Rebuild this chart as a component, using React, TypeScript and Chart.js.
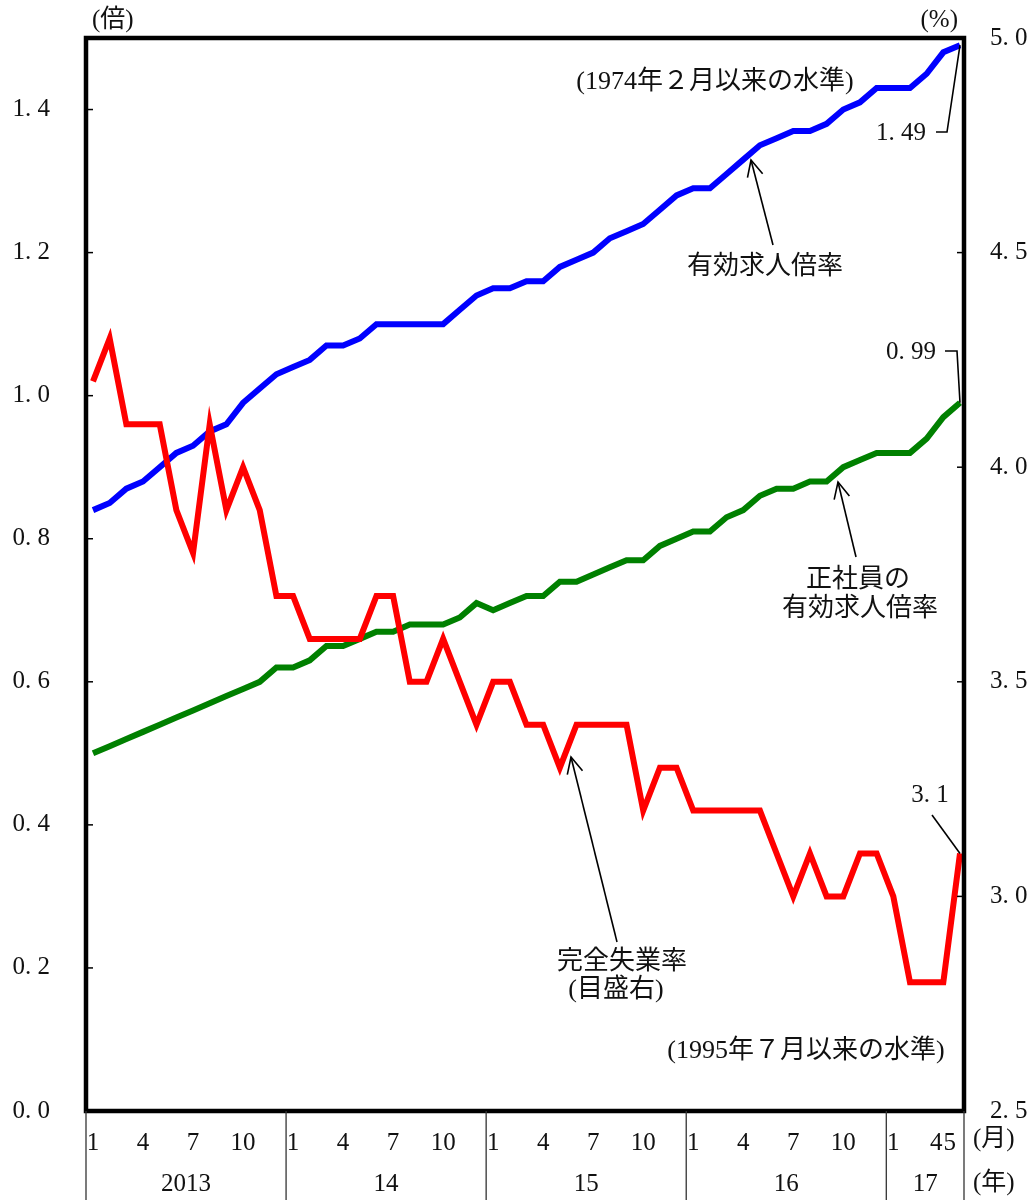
import React, { useEffect, useRef } from "react";
import { Chart, registerables } from "chart.js";

Chart.register(...registerables);

// ---- data ----
const categories = [
  "2013/1", "2013/2", "2013/3", "2013/4", "2013/5", "2013/6", "2013/7", "2013/8", "2013/9", "2013/10", "2013/11", "2013/12",
  "2014/1", "2014/2", "2014/3", "2014/4", "2014/5", "2014/6", "2014/7", "2014/8", "2014/9", "2014/10", "2014/11", "2014/12",
  "2015/1", "2015/2", "2015/3", "2015/4", "2015/5", "2015/6", "2015/7", "2015/8", "2015/9", "2015/10", "2015/11", "2015/12",
  "2016/1", "2016/2", "2016/3", "2016/4", "2016/5", "2016/6", "2016/7", "2016/8", "2016/9", "2016/10", "2016/11", "2016/12",
  "2017/1", "2017/2", "2017/3", "2017/4", "2017/5",
];

const jobOpeningsRatio = [
  0.84, 0.85, 0.87, 0.88, 0.90, 0.92, 0.93, 0.95, 0.96, 0.99, 1.01, 1.03,
  1.04, 1.05, 1.07, 1.07, 1.08, 1.10, 1.10, 1.10, 1.10, 1.10, 1.12, 1.14,
  1.15, 1.15, 1.16, 1.16, 1.18, 1.19, 1.20, 1.22, 1.23, 1.24, 1.26, 1.28,
  1.29, 1.29, 1.31, 1.33, 1.35, 1.36, 1.37, 1.37, 1.38, 1.40, 1.41, 1.43,
  1.43, 1.43, 1.45, 1.48, 1.49,
];

const regularJobOpeningsRatio = [
  0.50, 0.51, 0.52, 0.53, 0.54, 0.55, 0.56, 0.57, 0.58, 0.59, 0.60, 0.62,
  0.62, 0.63, 0.65, 0.65, 0.66, 0.67, 0.67, 0.68, 0.68, 0.68, 0.69, 0.71,
  0.70, 0.71, 0.72, 0.72, 0.74, 0.74, 0.75, 0.76, 0.77, 0.77, 0.79, 0.80,
  0.81, 0.81, 0.83, 0.84, 0.86, 0.87, 0.87, 0.88, 0.88, 0.90, 0.91, 0.92,
  0.92, 0.92, 0.94, 0.97, 0.99,
];

const unemploymentRate = [
  4.2, 4.3, 4.1, 4.1, 4.1, 3.9, 3.8, 4.1, 3.9, 4.0, 3.9, 3.7,
  3.7, 3.6, 3.6, 3.6, 3.6, 3.7, 3.7, 3.5, 3.5, 3.6, 3.5, 3.4,
  3.5, 3.5, 3.4, 3.4, 3.3, 3.4, 3.4, 3.4, 3.4, 3.2, 3.3, 3.3,
  3.2, 3.2, 3.2, 3.2, 3.2, 3.1, 3.0, 3.1, 3.0, 3.0, 3.1, 3.1,
  3.0, 2.8, 2.8, 2.8, 3.1,
];

const leftTicks = [0, 0.2, 0.4, 0.6, 0.8, 1.0, 1.2, 1.4];
const rightTicks = [2.5, 3.0, 3.5, 4.0, 4.5, 5.0];
const monthTickIndex = [0, 3, 6, 9, 12, 15, 18, 21, 24, 27, 30, 33, 36, 39, 42, 45, 48, 51, 52];
const yearNames = ["2013", "14", "15", "16", "17"];
const yearStartIndex = [0, 12, 24, 36, 48];

// ---- styling ----
const FONT = "'Liberation Serif', 'Noto Sans CJK JP', serif";
const X_MIN = -0.42;
const X_MAX = 52.24;

const fmtTick = (v: number) => v.toFixed(1).replace(".", ". ");

function drawArrow(ctx: CanvasRenderingContext2D, x1: number, y1: number, x2: number, y2: number) {
  ctx.beginPath();
  ctx.moveTo(x1, y1);
  ctx.lineTo(x2, y2);
  ctx.stroke();
  const ang = Math.atan2(y2 - y1, x2 - x1);
  const L = 18;
  const a = 0.45;
  ctx.beginPath();
  ctx.moveTo(x2 - L * Math.cos(ang - a), y2 - L * Math.sin(ang - a));
  ctx.lineTo(x2, y2);
  ctx.lineTo(x2 - L * Math.cos(ang + a), y2 - L * Math.sin(ang + a));
  ctx.stroke();
}

const overlayPlugin = {
  id: "overlay",
  afterDraw(chart: any) {
    const { ctx, chartArea: ca, scales } = chart;
    const sx = scales.x;
    const yl = scales.y;
    const yr = scales.y1;
    const H = chart.height;
    ctx.save();

    // frame
    ctx.strokeStyle = "#000";
    ctx.lineWidth = 4.5;
    ctx.strokeRect(ca.left, ca.top, ca.right - ca.left, ca.bottom - ca.top);

    // inner ticks
    ctx.lineWidth = 1.5;
    leftTicks.forEach((v) => {
      const py = yl.getPixelForValue(v);
      ctx.beginPath();
      ctx.moveTo(ca.left, py);
      ctx.lineTo(ca.left + 7, py);
      ctx.stroke();
    });
    rightTicks.forEach((v) => {
      const py = yr.getPixelForValue(v);
      ctx.beginPath();
      ctx.moveTo(ca.right - 7, py);
      ctx.lineTo(ca.right, py);
      ctx.stroke();
    });

    // year separators below the axis
    ctx.strokeStyle = "#333";
    ctx.lineWidth = 1.3;
    const seps = yearStartIndex.map((i) => sx.getPixelForValue(i + X_MIN));
    seps.push(ca.right);
    seps.forEach((px) => {
      ctx.beginPath();
      ctx.moveTo(px, ca.bottom);
      ctx.lineTo(px, H);
      ctx.stroke();
    });

    ctx.fillStyle = "#111";
    ctx.textBaseline = "middle";
    ctx.font = `25px ${FONT}`;
    ctx.textAlign = "center";
    // month labels, kept clear of the right end separator
    let maxRight = ca.right - 8;
    for (let k = monthTickIndex.length - 1; k >= 0; k--) {
      const i = monthTickIndex[k];
      const label = categories[i].split("/")[1];
      const w = ctx.measureText(label).width;
      const px = Math.min(sx.getPixelForValue(i), maxRight - w / 2);
      ctx.fillText(label, px, 1143);
      maxRight = px - w / 2 - 1;
    }
    yearNames.forEach((name, k) => {
      const cx = (seps[k] + seps[k + 1]) / 2;
      ctx.fillText(name, cx, 1184);
    });
    ctx.textAlign = "left";
    ctx.fillText("(月)", ca.right + 9, 1139);
    ctx.fillText("(年)", ca.right + 9, 1183);

    // unit labels
    ctx.fillText("(倍)", 92, 20);
    ctx.textAlign = "right";
    ctx.fillText("(%)", 958, 20);

    // annotations
    ctx.font = `26px ${FONT}`;
    ctx.textAlign = "center";
    ctx.fillText("(1974年２月以来の水準)", 715, 82);
    ctx.fillText("有効求人倍率", 765, 267);
    ctx.fillText("正社員の", 858, 580);
    ctx.fillText("有効求人倍率", 860, 609);
    ctx.fillText("完全失業率", 622, 962);
    ctx.fillText("(目盛右)", 616, 990);
    ctx.fillText("(1995年７月以来の水準)", 806, 1051);
    ctx.font = `25px ${FONT}`;
    ctx.textAlign = "right";
    ctx.fillText("1. 49", 926, 133);
    ctx.fillText("0. 99", 936, 352);
    ctx.textAlign = "center";
    ctx.fillText("3. 1", 930, 795);

    // leader lines
    const last = categories.length - 1;
    ctx.strokeStyle = "#000";
    ctx.lineWidth = 1.6;
    const pBlue = { x: sx.getPixelForValue(last), y: yl.getPixelForValue(jobOpeningsRatio[last]) };
    const pGreen = { x: sx.getPixelForValue(last), y: yl.getPixelForValue(regularJobOpeningsRatio[last]) };
    const pRed = { x: sx.getPixelForValue(last), y: yr.getPixelForValue(unemploymentRate[last]) };
    ctx.beginPath();
    ctx.moveTo(936, 132);
    ctx.lineTo(947, 132);
    ctx.lineTo(pBlue.x, pBlue.y);
    ctx.stroke();
    ctx.beginPath();
    ctx.moveTo(945, 351);
    ctx.lineTo(957, 351);
    ctx.lineTo(pGreen.x, pGreen.y);
    ctx.stroke();
    ctx.beginPath();
    ctx.moveTo(932, 815);
    ctx.lineTo(pRed.x, pRed.y);
    ctx.stroke();

    // arrows
    drawArrow(ctx, 773, 245, 751, 160);
    drawArrow(ctx, 856, 557, 838, 482);
    drawArrow(ctx, 617, 942, 571, 757);

    ctx.restore();
  },
};

export default function App() {
  const canvasRef = useRef<HTMLCanvasElement | null>(null);

  useEffect(() => {
    document.body.style.margin = "0";
    const canvas = canvasRef.current;
    if (!canvas) return;
    const toPoints = (arr: number[]) => arr.map((v, i) => ({ x: i, y: v }));
    const chart = new Chart(canvas, {
      type: "line",
      data: {
        datasets: [
          {
            label: "完全失業率",
            data: toPoints(unemploymentRate),
            yAxisID: "y1",
            borderColor: "#ff0000",
            borderWidth: 6,
            pointRadius: 0,
            tension: 0,
            fill: false,
            order: 1,
          },
          {
            label: "有効求人倍率",
            data: toPoints(jobOpeningsRatio),
            yAxisID: "y",
            borderColor: "#0000ff",
            borderWidth: 6,
            pointRadius: 0,
            tension: 0,
            fill: false,
            order: 2,
          },
          {
            label: "正社員の有効求人倍率",
            data: toPoints(regularJobOpeningsRatio),
            yAxisID: "y",
            borderColor: "#008000",
            borderWidth: 6,
            pointRadius: 0,
            tension: 0,
            fill: false,
            order: 3,
          },
        ],
      },
      options: {
        animation: false,
        responsive: false,
        devicePixelRatio: 1,
        layout: { padding: { top: 38, left: 0, right: 0, bottom: 0 } },
        plugins: {
          legend: { display: false },
          tooltip: { enabled: false },
        },
        scales: {
          x: {
            type: "linear",
            min: X_MIN,
            max: X_MAX,
            grid: { display: false, drawTicks: false },
            border: { display: false },
            ticks: { display: false },
            afterFit: (s: any) => {
              s.height = 89;
              s.paddingLeft = 0;
              s.paddingRight = 0;
            },
          },
          y: {
            type: "linear",
            position: "left",
            min: 0,
            max: 1.5,
            grid: { display: false, drawTicks: false },
            border: { display: false },
            afterBuildTicks: (s: any) => {
              s.ticks = leftTicks.map((v) => ({ value: v }));
            },
            afterFit: (s: any) => {
              s.width = 86;
              s.paddingTop = 0;
              s.paddingBottom = 0;
            },
            ticks: {
              padding: 36,
              color: "#111",
              font: { family: FONT, size: 25 },
              callback: (v: any) => fmtTick(Number(v)),
            },
          },
          y1: {
            type: "linear",
            position: "right",
            min: 2.5,
            max: 5.0,
            grid: { display: false, drawTicks: false },
            border: { display: false },
            afterBuildTicks: (s: any) => {
              s.ticks = rightTicks.map((v) => ({ value: v }));
            },
            afterFit: (s: any) => {
              s.width = 69;
              s.paddingTop = 0;
              s.paddingBottom = 0;
            },
            ticks: {
              padding: 26,
              color: "#111",
              font: { family: FONT, size: 25 },
              callback: (v: any) => fmtTick(Number(v)),
            },
          },
        },
      },
      plugins: [overlayPlugin],
    } as any);
    return () => chart.destroy();
  }, []);

  return (
    <div style={{ position: "absolute", left: 0, top: 0, width: 1033, height: 1200, background: "#fff" }}>
      <canvas ref={canvasRef} width={1033} height={1200} style={{ display: "block", width: 1033, height: 1200 }} />
    </div>
  );
}
